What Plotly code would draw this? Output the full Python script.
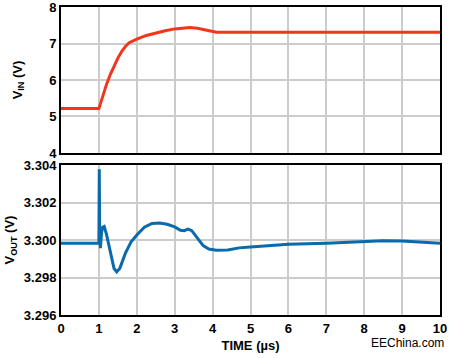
import plotly.graph_objects as go

# V_IN data (top panel)
t_in = [0, 1.0, 1.05, 1.1, 1.15, 1.2, 1.3, 1.4, 1.5, 1.6, 1.7, 1.8, 1.9, 2.0, 2.25, 2.5, 2.75, 3.0, 3.2, 3.4, 3.6, 3.8, 3.9, 4.0, 4.1, 4.2, 4.5, 5, 6, 7, 8, 9, 10]
v_in = [5.22, 5.22, 5.38, 5.55, 5.72, 5.88, 6.15, 6.4, 6.6, 6.78, 6.92, 7.02, 7.08, 7.12, 7.22, 7.29, 7.35, 7.40, 7.43, 7.44, 7.42, 7.37, 7.34, 7.32, 7.31, 7.305, 7.305, 7.31, 7.31, 7.31, 7.31, 7.31, 7.31]

# V_OUT data (bottom panel)
t_out = [0, 0.99, 1.0, 1.01, 1.02, 1.04, 1.07, 1.1, 1.14, 1.2, 1.3, 1.4, 1.47, 1.55, 1.7, 1.85, 2.0, 2.2, 2.4, 2.6, 2.8, 3.0, 3.15, 3.25, 3.35, 3.45, 3.6, 3.75, 3.9, 4.1, 4.4, 4.7, 5.0, 5.5, 6.0, 7.0, 8.0, 8.5, 9.0, 9.5, 10]
v_out = [3.29982, 3.29982, 3.2999, 3.30377, 3.3005, 3.29956, 3.3004, 3.30068, 3.30072, 3.3003, 3.2993, 3.29848, 3.2983, 3.29848, 3.2993, 3.2999, 3.30027, 3.30068, 3.30088, 3.3009, 3.30084, 3.3007, 3.30052, 3.3005, 3.30058, 3.3005, 3.3001, 3.2997, 3.29952, 3.29945, 3.29947, 3.29958, 3.29963, 3.29972, 3.29977, 3.29982, 3.29992, 3.29996, 3.29995, 3.2999, 3.29982]

x_ticks = list(range(0, 11))

fig = go.Figure()
fig.add_trace(go.Scatter(x=t_in, y=v_in, mode="lines", xaxis="x2", yaxis="y2",
                         line=dict(color="#f2361c", width=3)))
fig.add_trace(go.Scatter(x=t_out, y=v_out, mode="lines", xaxis="x", yaxis="y",
                         line=dict(color="#0a6aac", width=3)))

font_b = dict(family="Liberation Sans", size=13, color="black")
grid = dict(showgrid=True, gridcolor="#cccccc", gridwidth=2, showline=True, linecolor="black",
            linewidth=2, mirror=True, ticks="", zeroline=False, automargin=False,
            ticklabeloverflow="allow")

fig.update_layout(
    width=450, height=358, margin=dict(l=61, r=10, t=7, b=43),
    paper_bgcolor="white", plot_bgcolor="white", showlegend=False,
    font=dict(family="Liberation Sans", color="black"),
    xaxis=dict(range=[0, 10], tickvals=x_ticks, ticktext=[f"<b>{v}</b>" for v in x_ticks],
               tickfont=font_b, title=dict(text="<b>TIME (µs)</b>", font=font_b, standoff=6), **grid),
    xaxis2=dict(range=[0, 10], tickvals=x_ticks, showticklabels=False, anchor="y2", **grid),
    yaxis=dict(domain=[0, 0.487], range=[3.296, 3.304],
               tickvals=[3.296, 3.298, 3.300, 3.302, 3.304],
               ticktext=["<b>3.296</b>", "<b>3.298</b>", "<b>3.300</b>", "<b>3.302</b>", "<b>3.304</b>"],
               tickfont=font_b, title=dict(text="<b>V<sub>OUT</sub> (V)</b>", font=font_b, standoff=6), **grid),
    yaxis2=dict(domain=[0.526, 1], range=[4, 8], tickvals=[4, 5, 6, 7, 8],
                ticktext=["<b>4</b>", "<b>5</b>", "<b>6</b>", "<b>7</b>", "<b>8</b>"],
                tickfont=font_b, anchor="x2",
                title=dict(text="<b>V<sub>IN</sub> (V)</b>", font=font_b, standoff=24), **grid),
    annotations=[dict(text="EEChina.com", x=1.016, y=-0.09, xref="paper", yref="paper",
                      xanchor="right", yanchor="middle", showarrow=False,
                      font=dict(family="Liberation Sans", size=12, color="black"))],
)
fig.write_html("out.html", config={"displayModeBar": False},
               post_script="document.body.style.margin='0';")
